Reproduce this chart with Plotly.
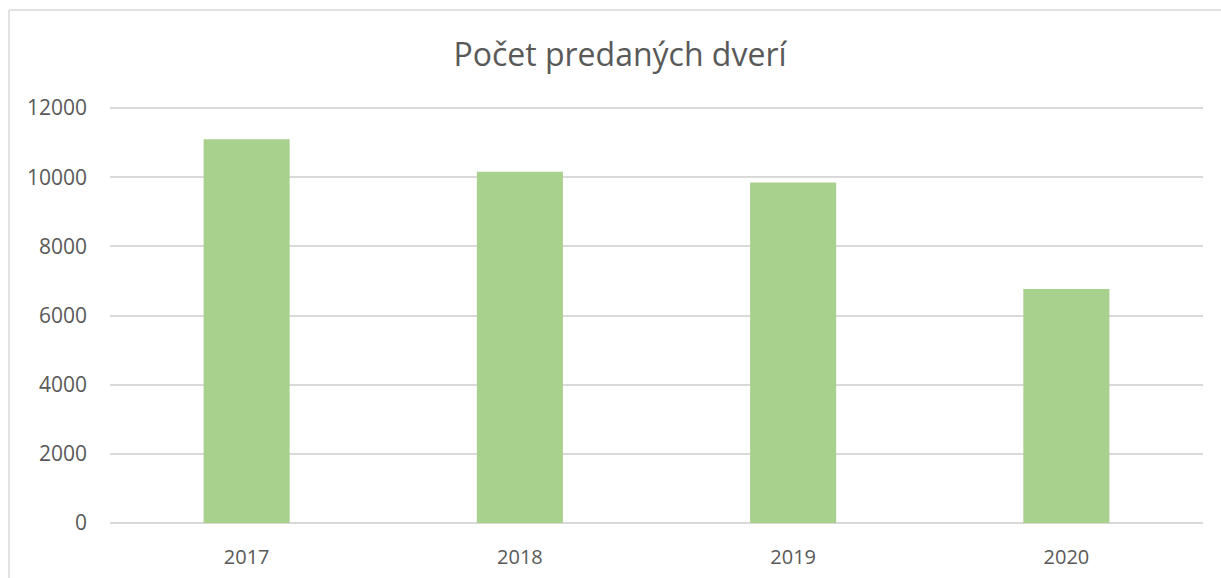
import plotly.graph_objects as go

years = ["2017", "2018", "2019", "2020"]
doors_sold = [11100, 10160, 9850, 6770]
y_ticks = [0, 2000, 4000, 6000, 8000, 10000, 12000]
title_text = "Počet predaných dverí"

W, H = 1221, 578
L, R, T, B = 110, 18, 107, 55
pw = W - L - R
ph = H - T - B

fig = go.Figure(go.Bar(
    x=years, y=doors_sold,
    marker=dict(color="#A9D18E", line=dict(width=0)),
    hoverinfo="x+y",
))

font_fam = "Open Sans, Arial, sans-serif"
fig.update_layout(
    width=W, height=H,
    margin=dict(l=L, r=R, t=T, b=B, pad=0, autoexpand=False),
    paper_bgcolor="white", plot_bgcolor="white",
    bargap=0.685,
    showlegend=False,
    title=dict(text=title_text, x=620 / W, xref="container", xanchor="center",
               y=1 - 55 / H, yref="container", yanchor="middle",
               automargin=False,
               font=dict(family=font_fam, size=32, color="#595959")),
    font=dict(family=font_fam, color="#595959"),
)
fig.update_xaxes(
    type="category", showgrid=False, showline=False, zeroline=False,
    automargin=False,
    ticks="", tickfont=dict(size=20, color="#595959", family=font_fam),
    ticklabelstandoff=20,
)
fig.update_yaxes(
    range=[0, 12030], tickvals=y_ticks, ticktext=[str(v) for v in y_ticks],
    automargin=False,
    showgrid=True, gridcolor="#D9D9D9", gridwidth=1.5,
    zeroline=True, zerolinecolor="#D9D9D9", zerolinewidth=1.5,
    showline=False, ticks="",
    tickfont=dict(size=21, color="#595959", family=font_fam),
    ticklabelstandoff=22,
)
# chart border (left and top visible)
x_left = (9 - L) / pw
x_right = (W + 5 - L) / pw
y_top = 1 + (T - 10) / ph
y_bot = -(B + 5) / ph
fig.add_shape(type="line", xref="paper", yref="paper",
              x0=x_left, x1=x_left, y0=y_bot, y1=y_top,
              line=dict(color="#D9D9D9", width=1.5))
fig.add_shape(type="line", xref="paper", yref="paper",
              x0=x_left, x1=x_right, y0=y_top, y1=y_top,
              line=dict(color="#D9D9D9", width=1.5))

fig.write_html("out.html", config={"displayModeBar": False})
